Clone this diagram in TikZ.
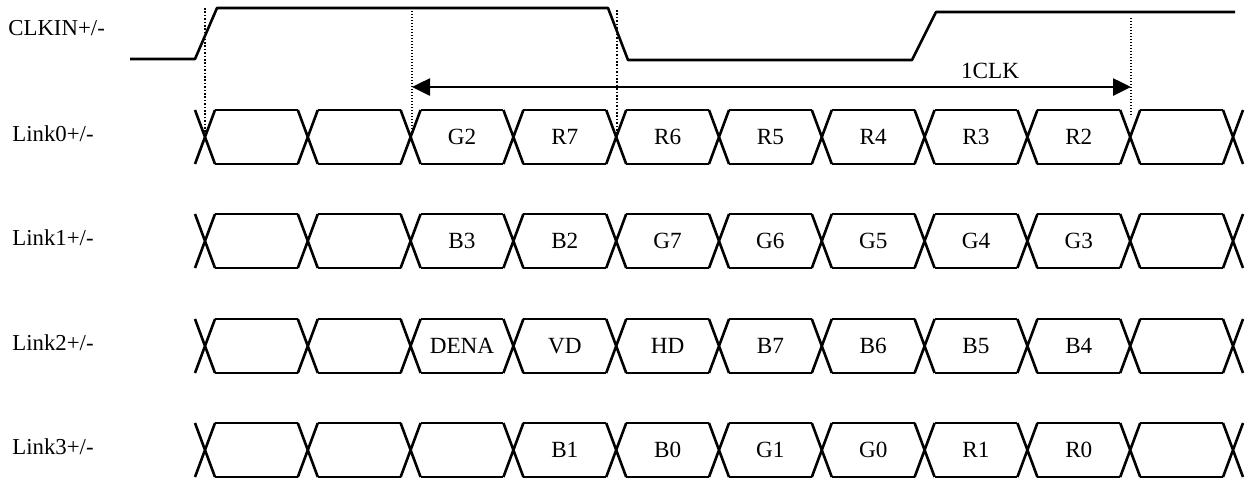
\documentclass[tikz,border=0pt]{standalone}
\usepackage{fontspec}
\setmainfont{Liberation Serif}
\usetikzlibrary{arrows.meta}

\begin{document}
\begin{tikzpicture}[x=0.5pt, y=-0.5pt,
  wave/.style={line width=1.3pt, line join=round},
  guide/.style={line width=0.6pt, dash pattern=on 0.7pt off 0.8pt},
  guidethick/.style={line width=1.1pt, dash pattern=on 0.8pt off 0.9pt},
  lbl/.style={font=\fontsize{11.4}{13}\selectfont, inner sep=0pt, anchor=base west},
  celltext/.style={font=\fontsize{11.6}{13}\selectfont, inner sep=0pt, anchor=base}]
\useasboundingbox (0,0) rectangle (1248,479);

% clock line
\node[lbl] (clkin) at (8,35) {CLKIN+/-};
\draw[wave] (130,59) -- (195,59) -- (217,8) -- (608,8) -- (628,60) -- (912,60) -- (936,12) -- (1235,12);

% data lanes
\foreach \r/\yy/\cells in {0/137/{{},{},G2,R7,R6,R5,R4,R3,R2,{}},
                           1/241/{{},{},B3,B2,G7,G6,G5,G4,G3,{}},
                           2/346/{{},{},DENA,VD,HD,B7,B6,B5,B4,{}},
                           3/450/{{},{},{},B1,B0,G1,G0,R1,R0,{}}}{
  \node[lbl] (link\r) at (12,\yy+4) {Link\r+/-};
  \foreach \k in {0,...,10}{
    \draw[wave] ({205+102.8*\k-10},\yy-27) -- ({205+102.8*\k+10},\yy+27)
                ({205+102.8*\k-10},\yy+27) -- ({205+102.8*\k+10},\yy-27);
  }
  \foreach \t [count=\k from 0] in \cells {
    \draw[wave] ({215+102.8*\k},\yy-27) -- ({297.8+102.8*\k},\yy-27)
                ({215+102.8*\k},\yy+27) -- ({297.8+102.8*\k},\yy+27);
    \node[celltext] (l\r-\k) at ({256.4+102.8*\k},\yy+7.5) {\t};
  }
}

% timing guides
\coordinate (g0a) at (205,8);   \coordinate (g0b) at (205,137);
\coordinate (g1a) at (412,8);   \coordinate (g1b) at (412,137);
\coordinate (g2a) at (617,10);  \coordinate (g2b) at (617,135);
\coordinate (g3a) at (1131,18); \coordinate (g3b) at (1131,117);
\draw[guidethick] (g0a) -- (g0b);
\draw[guide] (g1a) -- (g1b);
\draw[guidethick] (g2a) -- (g2b);
\draw[guide] (g3a) -- (g3b);

% one clock span
\coordinate (clkL) at (412,87);
\coordinate (clkR) at (1131,87);
\draw[line width=1.3pt, {Triangle[length=9pt,width=8.5pt]}-{Triangle[length=9pt,width=8.5pt]}] (clkL) -- (clkR);
\node[celltext] (oneclk) at (990,78) {1CLK};
\end{tikzpicture}
\end{document}
